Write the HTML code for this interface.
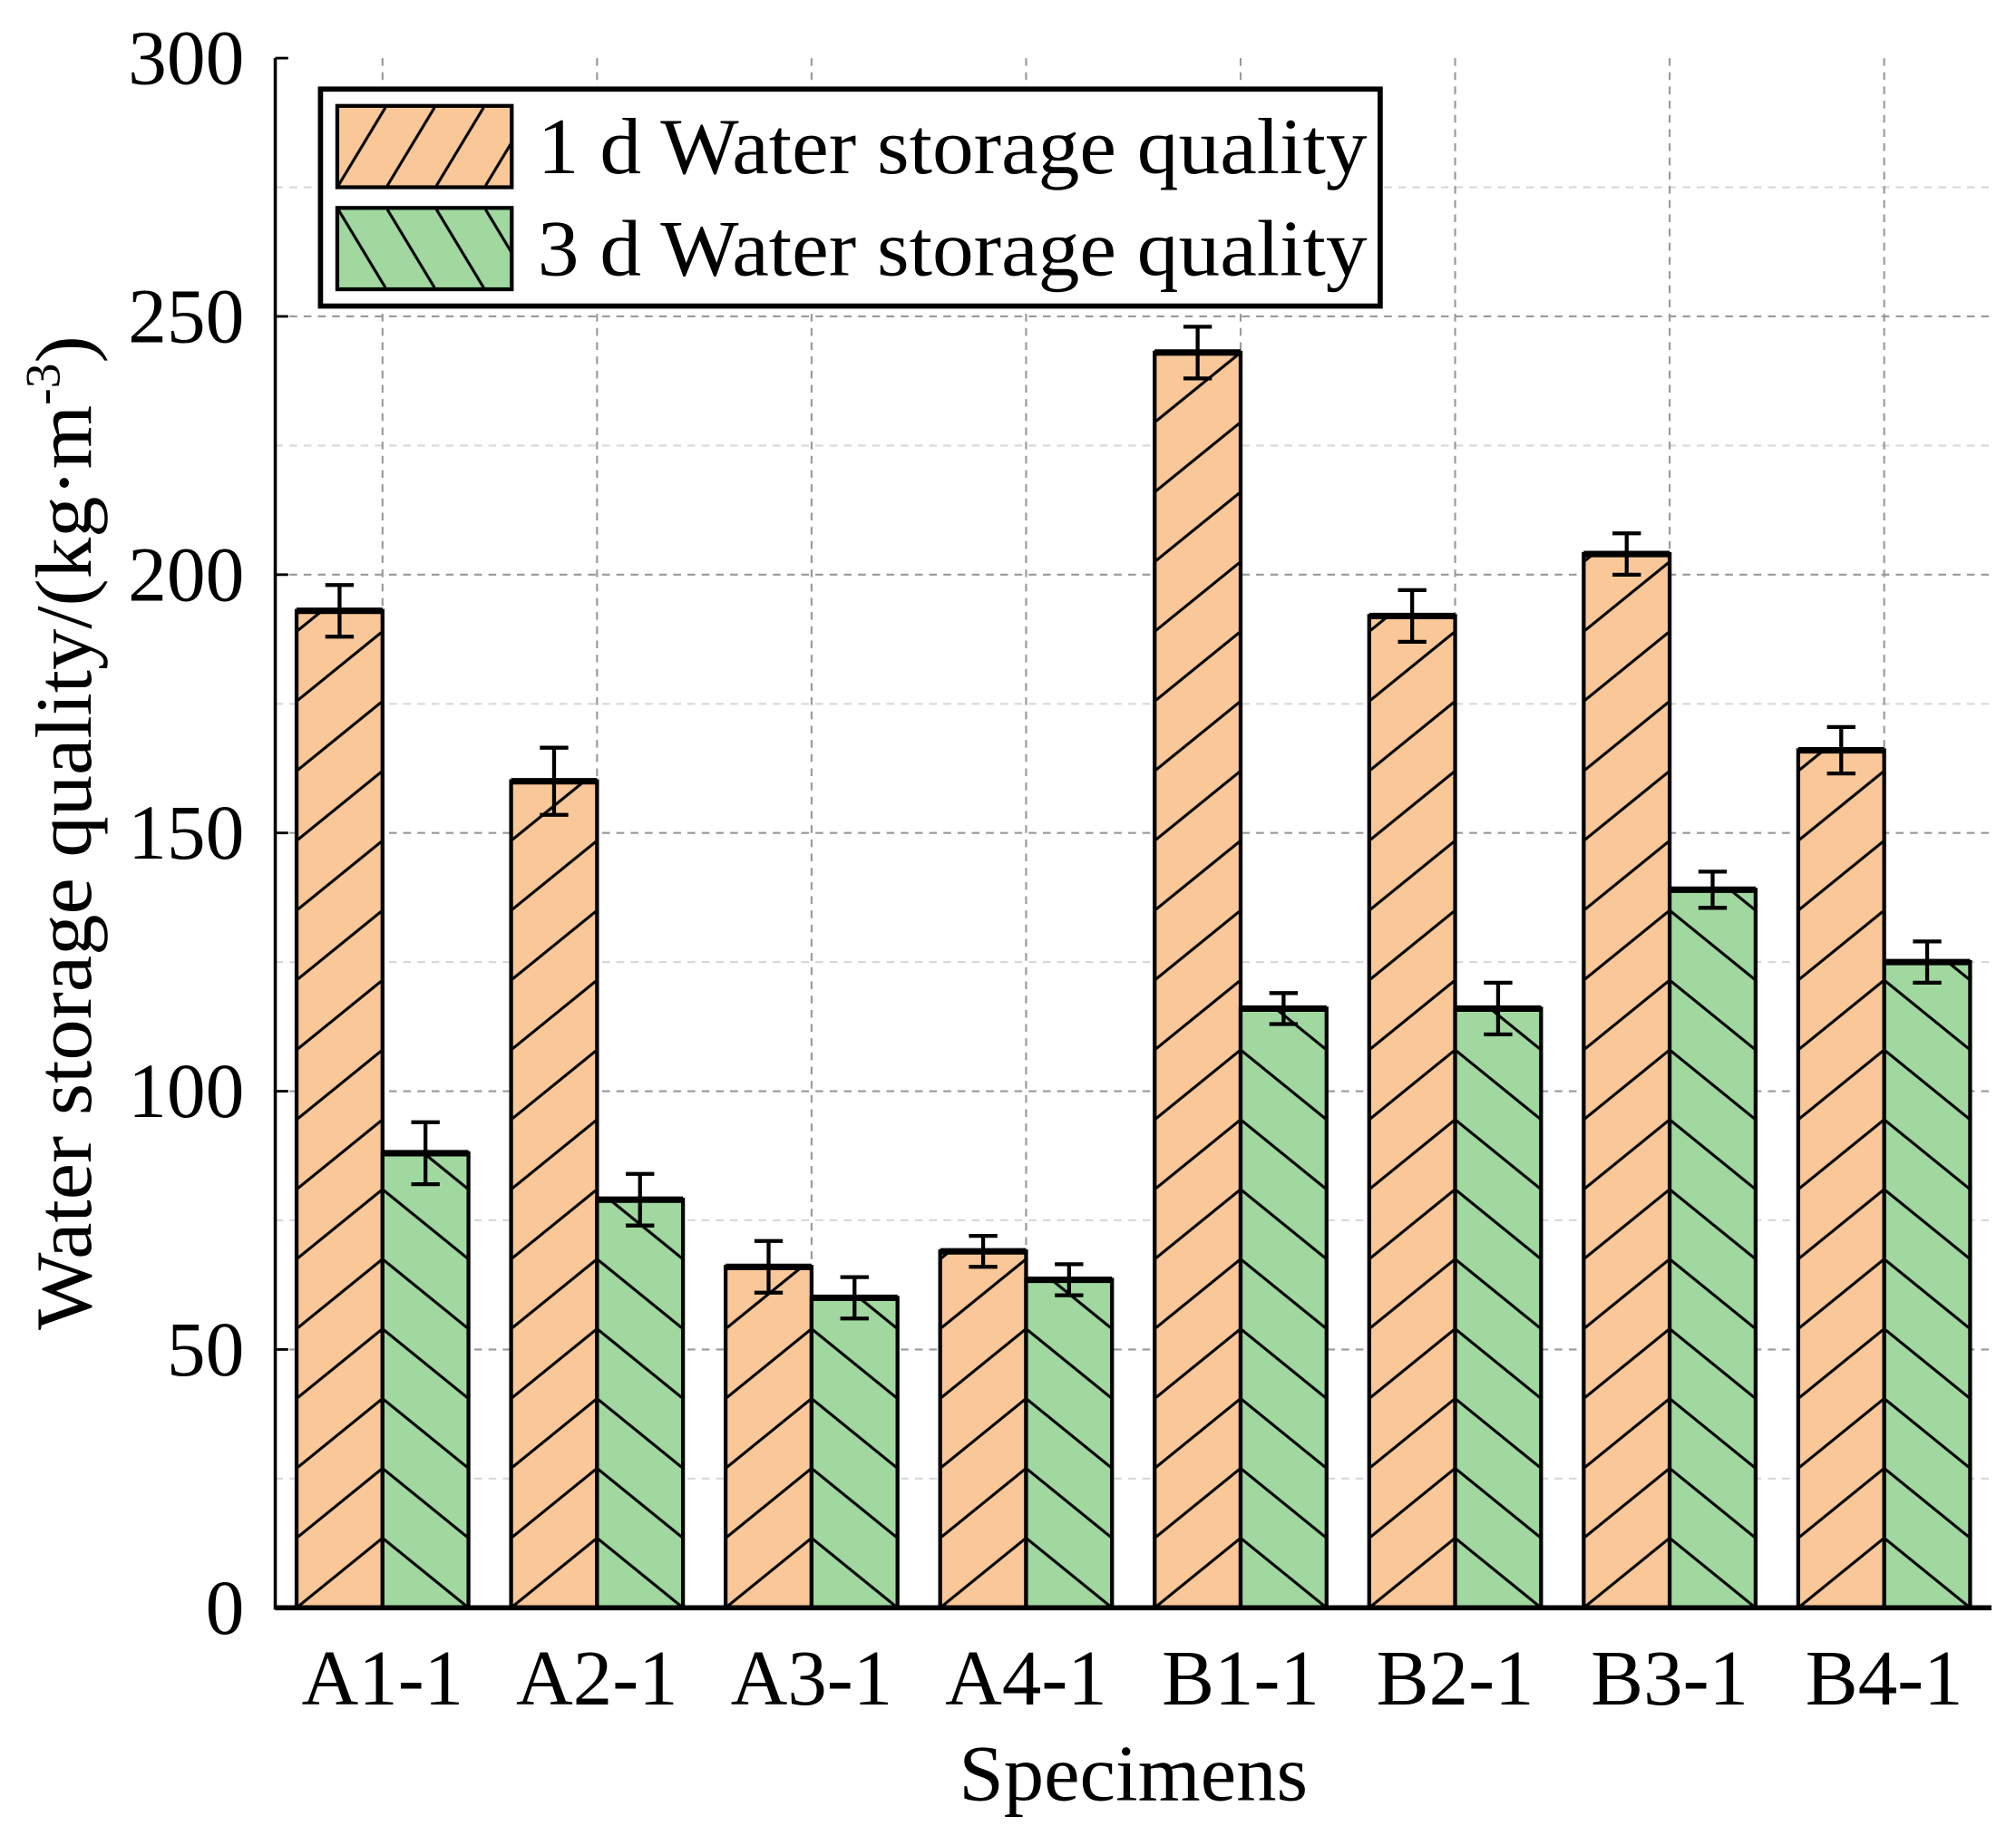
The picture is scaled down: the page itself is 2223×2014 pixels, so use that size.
<!DOCTYPE html>
<html><head><meta charset="utf-8"><style>
html,body{margin:0;padding:0;background:#fff}
svg{display:block}
text{font-family:"Liberation Serif",serif;fill:#000}
</style></head><body>
<svg id="chart" width="2223" height="2014" viewBox="0 0 1560 1414" preserveAspectRatio="none" xmlns="http://www.w3.org/2000/svg">
<defs id="defs"></defs>
<g id="grid"></g>
<g id="bars"></g>
<g id="axes"></g>
<text transform="translate(70,645) rotate(-90)" text-anchor="middle" font-size="62" textLength="770" lengthAdjust="spacingAndGlyphs">Water storage quality/(kg·m<tspan font-size="38" dy="-24">-3</tspan><tspan dy="24">)</tspan></text>
<text x="877" y="1394" text-anchor="middle" font-size="62" textLength="270" lengthAdjust="spacingAndGlyphs">Specimens</text>
<g>
<rect x="248" y="69" width="820" height="168" fill="#fff" stroke="#000" stroke-width="4"/>
<rect x="261" y="82" width="135" height="63" fill="url(#legA)" stroke="#000" stroke-width="3"/>
<rect x="261" y="161" width="135" height="63" fill="url(#legB)" stroke="#000" stroke-width="3"/>
<text x="416" y="134" font-size="62" textLength="642" lengthAdjust="spacingAndGlyphs">1 d Water storage quality</text>
<text x="416" y="213" font-size="62" textLength="642" lengthAdjust="spacingAndGlyphs">3 d Water storage quality</text>
</g>
</svg>
<script>
const categories = ["A1-1","A2-1","A3-1","A4-1","B1-1","B2-1","B3-1","B4-1"];
const day1Values = [193, 160, 66, 69, 243, 192, 204, 166];
const day1Errors = [5, 6.5, 5, 3, 5, 5, 4, 4.5];
const day3Values = [88, 79, 60, 63.5, 116, 116, 139, 125];
const day3Errors = [6, 5, 4, 3, 3, 5, 3.5, 4];
const yTicks = [0, 50, 100, 150, 200, 250, 300];

const NS = "http://www.w3.org/2000/svg";
const X0 = 213, X1 = 1541, Y0 = 1245, Y1 = 45, yMax = 300;
const groupW = (X1 - X0) / categories.length;
const barW = 66.5;
function yScale(v){ return Y0 - (v / yMax) * (Y0 - Y1); }
function xCenter(i){ return X0 + groupW * (i + 0.5); }
function mk(tag, attrs, parent){ const e = document.createElementNS(NS, tag); for (const k in attrs) e.setAttribute(k, attrs[k]); parent.appendChild(e); return e; }

const defs = document.getElementById('defs');
function makePattern(id, x, y, w, h, fill, dir){
  const p = mk('pattern', {id: id, patternUnits: 'userSpaceOnUse', x: x, y: y, width: w, height: h}, defs);
  mk('rect', {x: 0, y: 0, width: w, height: h, fill: fill}, p);
  if (dir > 0) {
    mk('line', {x1: -w, y1: 2*h, x2: 2*w, y2: -h, stroke: '#000', 'stroke-width': 2.2}, p);
  } else {
    mk('line', {x1: -w, y1: -h, x2: 2*w, y2: 2*h, stroke: '#000', 'stroke-width': 2.2}, p);
  }
}
makePattern('legA', 261, 82, 38, 63, '#fac898', 1);
makePattern('legB', 261, 161, 38, 63, '#a0d8a0', -1);

const grid = document.getElementById('grid');
for (let v = 25; v <= 275; v += 25) {
  const gl = mk('line', {x1: X0, x2: X1, y1: yScale(v), y2: yScale(v), stroke: v % 50 ? '#d8d8d8' : '#999', 'stroke-width': 1.5, 'stroke-dasharray': '6,5'}, grid);
  
  
}
categories.forEach((c, i) => {
  const gl = mk('line', {x1: xCenter(i), x2: xCenter(i), y1: Y1, y2: Y0, stroke: '#999', 'stroke-width': 1.5, 'stroke-dasharray': '6,5'}, grid);
  
  
});

const bars = document.getElementById('bars');
function drawBar(i, v, e, series, x, fill, dir){
  const top = yScale(v);
  const pid = 'pat-' + series + '-' + i;
  makePattern(pid, x, Y0, barW, 54, fill, dir);
  const r = mk('rect', {x: x, y: top, width: barW, height: Y0 - top, fill: 'url(#' + pid + ')', stroke: '#000', 'stroke-width': 3}, bars);
  
  
  mk('line', {x1: x, x2: x + barW, y1: top, y2: top, stroke: '#000', 'stroke-width': 5}, bars);
  const cx = x + barW / 2, yt = yScale(v + e), yb = yScale(v - e);
  const eb = mk('g', {stroke: '#000', 'stroke-width': 3}, bars);
  
  
  mk('line', {x1: cx, x2: cx, y1: yt, y2: yb}, eb);
  mk('line', {x1: cx - 11, x2: cx + 11, y1: yt, y2: yt}, eb);
  mk('line', {x1: cx - 11, x2: cx + 11, y1: yb, y2: yb}, eb);
}
categories.forEach((c, i) => {
  const cx = xCenter(i);
  drawBar(i, day1Values[i], day1Errors[i], '1d', cx - barW, '#fac898', 1);
  drawBar(i, day3Values[i], day3Errors[i], '3d', cx, '#a0d8a0', -1);
});

const axes = document.getElementById('axes');
const ya = mk('line', {x1: X0, x2: X0, y1: Y1, y2: Y0 + 1.5, stroke: '#000', 'stroke-width': 2.5}, axes);


const xa = mk('line', {x1: X0, x2: X1, y1: Y0, y2: Y0, stroke: '#000', 'stroke-width': 4}, axes);


yTicks.forEach(v => {
  mk('line', {x1: X0, x2: X0 + 10, y1: yScale(v), y2: yScale(v), stroke: '#000', 'stroke-width': 2}, axes);
  const t = mk('text', {x: 189, y: yScale(v) + 20, 'text-anchor': 'end', 'font-size': 60}, axes);
  t.textContent = v;
  
  
});
categories.forEach((c, i) => {
  const t = mk('text', {x: xCenter(i), y: 1320, 'text-anchor': 'middle', 'font-size': 61}, axes);
  t.textContent = c;
  
  
});
</script>
</body></html>
